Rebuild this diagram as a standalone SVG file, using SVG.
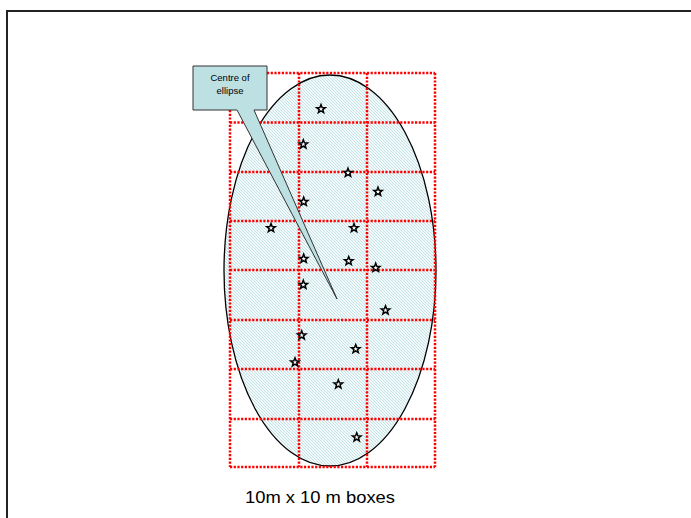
<svg xmlns="http://www.w3.org/2000/svg" width="691" height="518" viewBox="0 0 691 518">
<style>
.grid{stroke:#ff0000;stroke-width:2.5;stroke-dasharray:2.2 1.5;fill:none}
.star{fill:#ffffff;stroke:#000;stroke-width:1.5;stroke-linejoin:miter}
.lbl{font-family:"Liberation Sans",Arial,sans-serif;fill:#000}
</style>
<defs>
<pattern id="hatch" patternUnits="userSpaceOnUse" width="3" height="3">
<rect width="3" height="3" fill="#f2f9fa"/>
<path d="M-1,-1 L4,4 M-1,2 L1,4 M2,-1 L4,1" stroke="#bfe0e3" stroke-width="0.9"/>
</pattern>
<path id="st" d="M0,-4.5 L1.12,-1.54 L4.28,-1.39 L1.81,0.59 L2.65,3.64 L0,1.9 L-2.65,3.64 L-1.81,0.59 L-4.28,-1.39 L-1.12,-1.54 Z"/>
</defs>
<rect width="691" height="518" fill="#fff"/>
<rect x="7" y="11" width="720" height="540" fill="none" stroke="#222" stroke-width="2"/>
<g id="ellipse">
<ellipse cx="330" cy="270.5" rx="106" ry="195.5" fill="url(#hatch)" stroke="#000" stroke-width="1.3"/>
</g>
<g id="grid">
<path class="grid" d="M230,73 V467 M299,73 V467 M367,73 V467 M435,73 V467"/>
<path class="grid" d="M230,73 H435 M230,122.5 H435 M230,172 H435 M230,221 H435 M230,270 H435 M230,320 H435 M230,369 H435 M230,419 H435 M230,467 H435"/>
</g>
<g id="stars">
<use href="#st" class="star" x="321" y="109"/>
<use href="#st" class="star" x="303.3" y="144.3"/>
<use href="#st" class="star" x="348" y="172.7"/>
<use href="#st" class="star" x="378" y="191.7"/>
<use href="#st" class="star" x="303.7" y="201.7"/>
<use href="#st" class="star" x="271" y="228"/>
<use href="#st" class="star" x="354" y="228"/>
<use href="#st" class="star" x="303.7" y="258.7"/>
<use href="#st" class="star" x="348.7" y="261"/>
<use href="#st" class="star" x="375.7" y="267.7"/>
<use href="#st" class="star" x="303.3" y="284.7"/>
<use href="#st" class="star" x="385.5" y="310.3"/>
<use href="#st" class="star" x="301.7" y="335.3"/>
<use href="#st" class="star" x="355.7" y="349"/>
<use href="#st" class="star" x="295" y="362.3"/>
<use href="#st" class="star" x="338.3" y="384.3"/>
<use href="#st" class="star" x="356.7" y="437.3"/>
</g>
<g id="callout">
<path d="M193,66 H267 V110 H254 L337,299 L237,110 H193 Z" fill="#bde0e3" stroke="#333" stroke-width="1"/>
<text class="lbl" x="230" y="81" font-size="9.5" text-anchor="middle">Centre of</text>
<text class="lbl" x="230" y="93.5" font-size="9.5" text-anchor="middle">ellipse</text>
</g>
<text class="lbl" x="245" y="503" font-size="17" textLength="150" lengthAdjust="spacingAndGlyphs">10m x 10 m boxes</text>
</svg>
